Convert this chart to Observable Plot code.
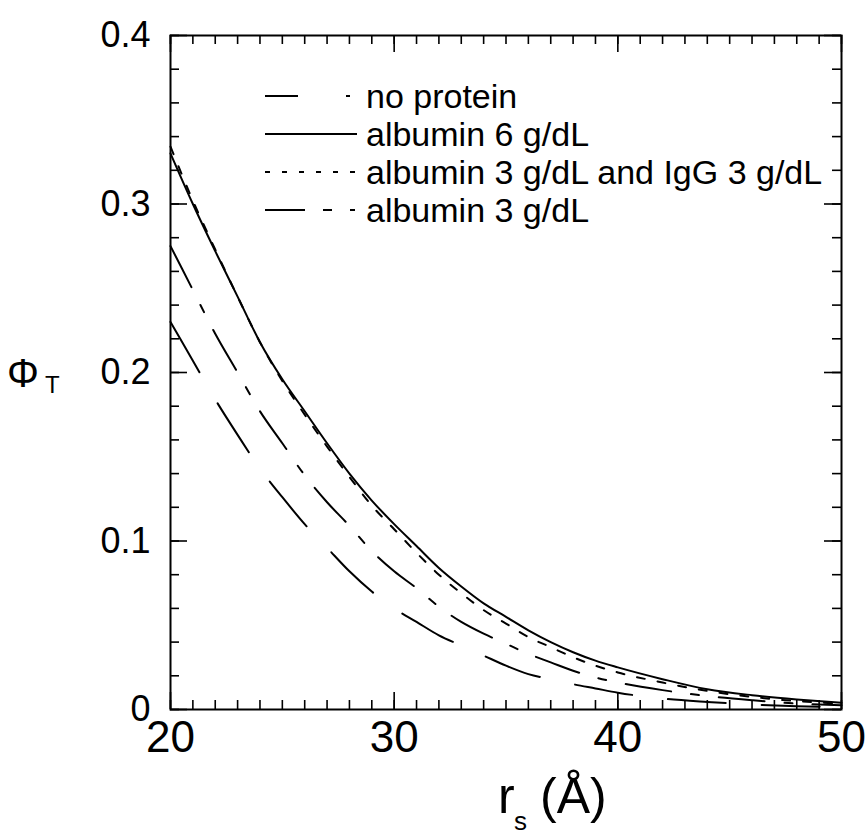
<!DOCTYPE html>
<html><head><meta charset="utf-8">
<script src="https://cdn.jsdelivr.net/npm/d3@7"></script>
<script src="https://cdn.jsdelivr.net/npm/@observablehq/plot@0.6"></script>
<style>body{margin:0;background:#fff}</style>
</head><body><div id="chart"></div>
<script>
// ---- data ----
const rs = [20,21,22,23,24,25,26,27,28,29,30,31,32,33,34,35,36,37,38,39,40,42,44,46,48,50];
const noProtein = [0.230,0.207,0.184,0.163,0.143,0.126,0.110,0.096,0.082,0.070,0.060,0.052,0.044,0.038,0.032,0.026,0.021,0.018,0.015,0.0125,0.010,0.0065,0.0045,0.003,0.002,0.0015];
const albumin6 = [0.330,0.300,0.272,0.245,0.218,0.196,0.177,0.158,0.140,0.124,0.110,0.097,0.084,0.073,0.063,0.055,0.047,0.040,0.034,0.029,0.025,0.018,0.012,0.0085,0.006,0.004];
const albIgG = [0.334,0.302,0.273,0.245,0.218,0.195,0.175,0.156,0.138,0.121,0.107,0.093,0.080,0.069,0.059,0.051,0.043,0.037,0.031,0.026,0.022,0.016,0.011,0.0075,0.005,0.0035];
const albumin3 = [0.275,0.249,0.223,0.200,0.177,0.158,0.139,0.123,0.109,0.094,0.082,0.072,0.061,0.052,0.045,0.039,0.033,0.028,0.023,0.019,0.016,0.0115,0.008,0.0055,0.0035,0.0025];
const seriesNames = ["no protein","albumin 6 g/dL","albumin 3 g/dL and IgG 3 g/dL","albumin 3 g/dL"];
const xTickLabels = [20,30,40,50];
const yTickLabels = [0,0.1,0.2,0.3,0.4];
const xMinorTicks = [20,21,22,23,24,25,26,27,28,29,30,31,32,33,34,35,36,37,38,39,40,41,42,43,44,45,46,47,48,49,50];
const yMinorTicks = [0,0.02,0.04,0.06,0.08,0.1,0.12,0.14,0.16,0.18,0.2,0.22,0.24,0.26,0.28,0.3,0.32,0.34,0.36,0.38,0.4];

// ---- layout / style ----
const W = 866, H = 837, mL = 170, mR = 25, mT = 35, mB = 128;
const fw = W - mL - mR, fh = H - mT - mB;
const font = "'Liberation Sans', Arial, Helvetica, sans-serif";
const seriesValues = [noProtein, albumin6, albIgG, albumin3];
const curveDash = ["58,36", null, "8,13", "46,20,8,20"];
const legendDash = ["33,48,4,20", null, "5,12", "40,18,9,18,5,10"];

const rows = seriesNames.flatMap((s, k) => rs.map((x, i) => ({x, y: seriesValues[k][i], s})));

const minLen = 9, majLen = 17;
const tk = {stroke: "black", strokeWidth: 1.6};
const plot = Plot.plot({
  width: W, height: H,
  marginLeft: mL, marginRight: mR, marginTop: mT, marginBottom: mB,
  x: {domain: [20, 50]},
  y: {domain: [0, 0.4]},
  style: {fontFamily: font, fontSize: "36px", color: "black", background: "white", overflow: "visible"},
  marks: [
    // inward ticks: bottom / top
    Plot.ruleX(xMinorTicks, {x: d => d, insetTop: fh - minLen, ...tk}),
    Plot.ruleX(xTickLabels, {x: d => d, insetTop: fh - majLen, ...tk}),
    Plot.ruleX(xMinorTicks, {x: d => d, insetBottom: fh - minLen, ...tk}),
    Plot.ruleX(xTickLabels, {x: d => d, insetBottom: fh - majLen, ...tk}),
    // inward ticks: left / right
    Plot.ruleY(yMinorTicks, {y: d => d, insetRight: fw - minLen, ...tk}),
    Plot.ruleY(yTickLabels, {y: d => d, insetRight: fw - majLen, ...tk}),
    Plot.ruleY(yMinorTicks, {y: d => d, insetLeft: fw - minLen, ...tk}),
    Plot.ruleY(yTickLabels, {y: d => d, insetLeft: fw - majLen, ...tk}),
    Plot.axisX({ticks: xTickLabels, tickSize: 0, tickPadding: 11, tickFormat: d => String(d), label: null, fontSize: 44}),
    Plot.axisY({ticks: yTickLabels, tickSize: 0, tickPadding: 20, tickFormat: d => String(d), label: null, fontSize: 36}),
    ...seriesNames.map((name, k) => Plot.line(rows.filter(r => r.s === name), {
      x: "x", y: "y", curve: "monotone-x", stroke: "black", strokeWidth: 2,
      strokeDasharray: curveDash[k] || undefined
    })),
    Plot.frame({stroke: "black", strokeWidth: 2})
  ]
});
document.getElementById("chart").append(plot);

// ---- annotations: axis titles and legend ----
const svg = d3.select(plot);
const g = svg.append("g").attr("font-family", font).attr("fill", "black").attr("text-anchor", "start");
// y title  Φ_T
g.append("text").attr("x", 7).attr("y", 387).attr("font-size", 40).text("Φ");
g.append("text").attr("x", 45).attr("y", 393).attr("font-size", 24).text("T");
// x title  r_s (Å)
g.append("text").attr("x", 498).attr("y", 813).attr("font-size", 50).text("r");
g.append("text").attr("x", 514).attr("y", 830).attr("font-size", 26).text("s");
g.append("text").attr("x", 540).attr("y", 813).attr("font-size", 50).text("(Å)");
// legend
const lg = svg.append("g").attr("font-family", font).attr("text-anchor", "start");
seriesNames.forEach((name, k) => {
  const y = 96 + 38 * k;
  const ln = lg.append("line").attr("x1", 265).attr("x2", 357).attr("y1", y).attr("y2", y)
    .attr("stroke", "black").attr("stroke-width", 2);
  if (legendDash[k]) ln.attr("stroke-dasharray", legendDash[k]);
  lg.append("text").attr("x", 366).attr("y", y + 12).attr("font-size", 34).attr("fill", "black").text(name);
});
</script>
</body></html>
